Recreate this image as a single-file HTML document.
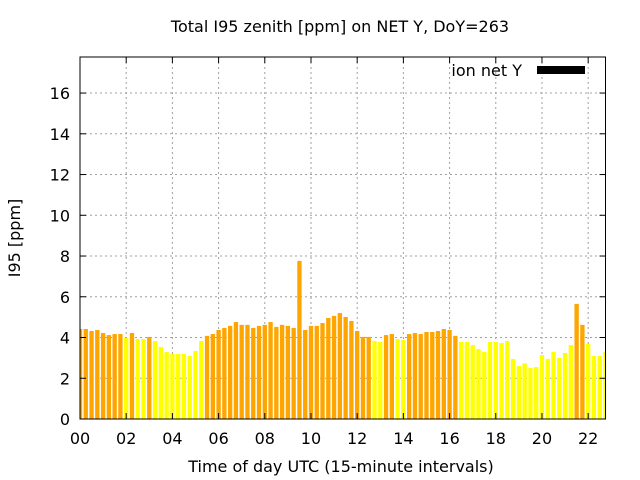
<!DOCTYPE html>
<html><head><meta charset="utf-8"><style>
body{margin:0;background:#fff;}
svg{display:block;font-family:"DejaVu Sans","Liberation Sans",sans-serif;}
</style></head><body>
<svg id="chart" width="640" height="480" viewBox="0 0 640 480">
<rect x="0" y="0" width="640" height="480" fill="#fff"/>
<g id="grid"></g>
<g id="bars"></g>
<g id="axes"></g>
<text x="340" y="32" text-anchor="middle" font-size="16">Total I95 zenith [ppm] on NET Y, DoY=263</text>
<text x="341" y="472" text-anchor="middle" font-size="16">Time of day UTC (15-minute intervals)</text>
<text transform="translate(20,238) rotate(-90)" text-anchor="middle" font-size="16">I95 [ppm]</text>
<g>
<text x="522" y="76" text-anchor="end" font-size="16">ion net Y</text>
<rect x="537" y="66" width="48" height="8" fill="#000"/>
</g>
</svg>
<script>
const values = [4.42,4.42,4.32,4.37,4.22,4.12,4.17,4.17,3.98,4.22,3.93,3.93,4.03,3.83,3.54,3.29,3.19,3.19,3.19,3.09,3.34,3.83,4.08,4.17,4.37,4.47,4.57,4.76,4.62,4.62,
4.47,4.57,4.62,4.76,4.52,4.62,4.57,4.47,7.76,4.37,4.57,4.57,4.71,4.96,5.06,5.2,5.01,4.81,4.32,4.03,4.03,3.83,3.78,4.12,4.17,3.93,3.88,4.17,4.22,4.17,
4.27,4.27,4.32,4.42,4.37,4.08,3.78,3.78,3.63,3.44,3.29,3.78,3.78,3.73,3.83,2.95,2.6,2.73,2.5,2.55,3.14,2.95,3.29,3.0,3.24,3.63,5.65,4.62,3.68,3.09,3.09,3.29];
const yTicks = [0,2,4,6,8,10,12,14,16];
const xTicks = [0,2,4,6,8,10,12,14,16,18,20,22];
const xTickLabels = ["00","02","04","06","08","10","12","14","16","18","20","22"];
const threshold = 4;

const L=80,R=605.5,T=57,B=419;
const xMax=22.75, yMax=17.77;
const xs=h=>L+h*(R-L)/xMax;
const ys=v=>B-v*(B-T)/yMax;
const NS="http://www.w3.org/2000/svg";
function mk(tag,attrs,parent){const e=document.createElementNS(NS,tag);for(const k in attrs)e.setAttribute(k,attrs[k]);parent.appendChild(e);return e;}
const grid=document.getElementById('grid'),bars=document.getElementById('bars'),axes=document.getElementById('axes');

yTicks.forEach(v=>{
  const y=ys(v);
  if(v>0){const g=mk('line',{x1:L,x2:R,y1:y,y2:y,stroke:'#a0a0a0','stroke-width':1,'stroke-dasharray':'2,3'},grid);
  
  }
  const t=mk('line',{x1:L,x2:L+6,y1:y,y2:y,stroke:'#000'},axes);
  
  
  const t2=mk('line',{x1:R,x2:R-6,y1:y,y2:y,stroke:'#000'},axes);
  
  
  const lb=mk('text',{x:L-10,y:y+6,'text-anchor':'end','font-size':16},axes);
  lb.textContent=v;
  
  
});
xTicks.forEach((h,i)=>{
  const x=xs(h);
  if(h>0){const g=mk('line',{x1:x,x2:x,y1:T,y2:B,stroke:'#a0a0a0','stroke-width':1,'stroke-dasharray':'2,3'},grid);
  
  }
  const t=mk('line',{x1:x,x2:x,y1:B,y2:B-6,stroke:'#000'},axes);
  
  
  const t2=mk('line',{x1:x,x2:x,y1:T,y2:T+6,stroke:'#000'},axes);
  
  
  const lb=mk('text',{x:x,y:B+25,'text-anchor':'middle','font-size':16},axes);
  lb.textContent=xTickLabels[i];
  
  
});
const step=(R-L)/xMax*0.25, bw=step*0.75;
values.forEach((v,i)=>{
  const cx=xs(i*0.25);
  let x0=Math.max(L,cx-bw/2), x1=Math.min(R,cx+bw/2);
  const r=mk('rect',{x:x0,y:ys(v),width:Math.max(0,x1-x0),height:B-ys(v),fill:v>=threshold?'#ffa500':'#ffff00'},bars);
  
  
});
const f=mk('rect',{x:L,y:T,width:R-L,height:B-T,fill:'none',stroke:'#000','stroke-width':1},axes);


</script>
</body></html>
